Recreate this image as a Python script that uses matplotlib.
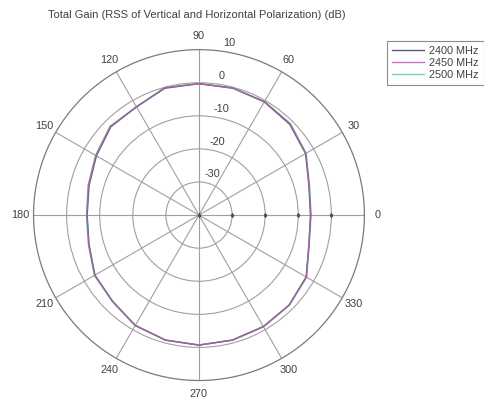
import numpy as np
import matplotlib
matplotlib.use("Agg")
import matplotlib.pyplot as plt

plt.rcParams['font.family'] = ['Liberation Sans', 'DejaVu Sans']

title = "Total Gain (RSS of Vertical and Horizontal Polarization) (dB)"
angles_deg = [0, 15, 30, 45, 60, 75, 90, 105, 120, 135, 150, 165,
              180, 195, 210, 225, 240, 255, 270, 285, 300, 315, 330, 345, 360]
gain_2400 = [-6.3, -5.6, -2.8, -1.2, -0.5, -0.3, -0.3, -0.3, -2.2, -2.3, -4.2, -5.6,
             -6.2, -5.6, -3.7, -3.1, -1.5, -0.9, -0.7, -0.9, -1.1, -1.5, -2.6, -5.6, -6.3]
gain_2450 = [-6.2, -5.5, -2.7, -1.0, -0.4, -0.3, -0.3, -0.1, -2.3, -2.1, -4.0, -5.4,
             -6.1, -5.5, -3.6, -3.1, -1.5, -0.9, -0.75, -0.9, -1.05, -1.5, -2.5, -5.6, -6.2]
gain_2500 = [-6.1, -5.4, -2.6, -0.9, -0.4, -0.2, -0.2, -0.1, -2.2, -2.0, -3.9, -5.3,
             -6.0, -5.4, -3.5, -3.0, -1.4, -0.8, -0.7, -0.8, -1.0, -1.4, -2.4, -5.5, -6.1]
series_names = ["2400 MHz", "2450 MHz", "2500 MHz"]
theta_ticks = [0, 30, 60, 90, 120, 150, 180, 210, 240, 270, 300, 330]
r_ticks = [-30, -20, -10, 0, 10]

FS = 7.8
TXT = '#404040'

fig = plt.figure(figsize=(4.85, 4.03), dpi=100)
ax = fig.add_axes([0.069, 0.0558, 0.6825, 0.821], projection='polar')
ax.set_ylim(-40, 10)
ax.set_thetagrids(theta_ticks, [str(t) for t in theta_ticks])
ax.set_rgrids(r_ticks[:-1], labels=[''] * 4)
ax.grid(True, color='#a0a0a0', lw=0.8, ls='-')
ax.spines['polar'].set_color('#7a7a7a')
ax.spines['polar'].set_linewidth(0.9)
ax.tick_params(axis='x', pad=-1, labelsize=FS, colors=TXT)
ax.set_facecolor('white')

# small dots where the rings cross the 0-degree spoke, and at the centre
ax.plot(np.zeros(5), [-40] + r_ticks[:-1], ls='none', marker='s', ms=1.3,
        color='#505050', zorder=3)

th = np.deg2rad(angles_deg)
l3, = ax.plot(th, gain_2500, color='#88c8c0', lw=1.0, label=series_names[2])
l1, = ax.plot(th, gain_2400, color='#5c5c6c', lw=1.0, label=series_names[0])
l2, = ax.plot(th, gain_2450, color='#a868a8', lw=1.0, alpha=0.85, label=series_names[1])

for v in r_ticks:
    ax.text(np.deg2rad(82), v + 2.4, str(v), ha='left', va='center',
            fontsize=FS, color=TXT)

fig.text(0.406, 0.963, title, ha='center', va='center', fontsize=8.0, color=TXT)

leg = fig.legend([l1, l2, l3], series_names, loc='upper left',
                 bbox_to_anchor=(387 / 485, 1 - 41 / 403), fontsize=FS,
                 frameon=True, fancybox=False, handlelength=3.0,
                 borderpad=0.45, borderaxespad=0.0, labelspacing=0.2,
                 handletextpad=0.45)
leg.get_frame().set_edgecolor('#707070')
leg.get_frame().set_linewidth(0.8)
for t in leg.get_texts():
    t.set_color(TXT)

fig.savefig('out.png', dpi=100)
